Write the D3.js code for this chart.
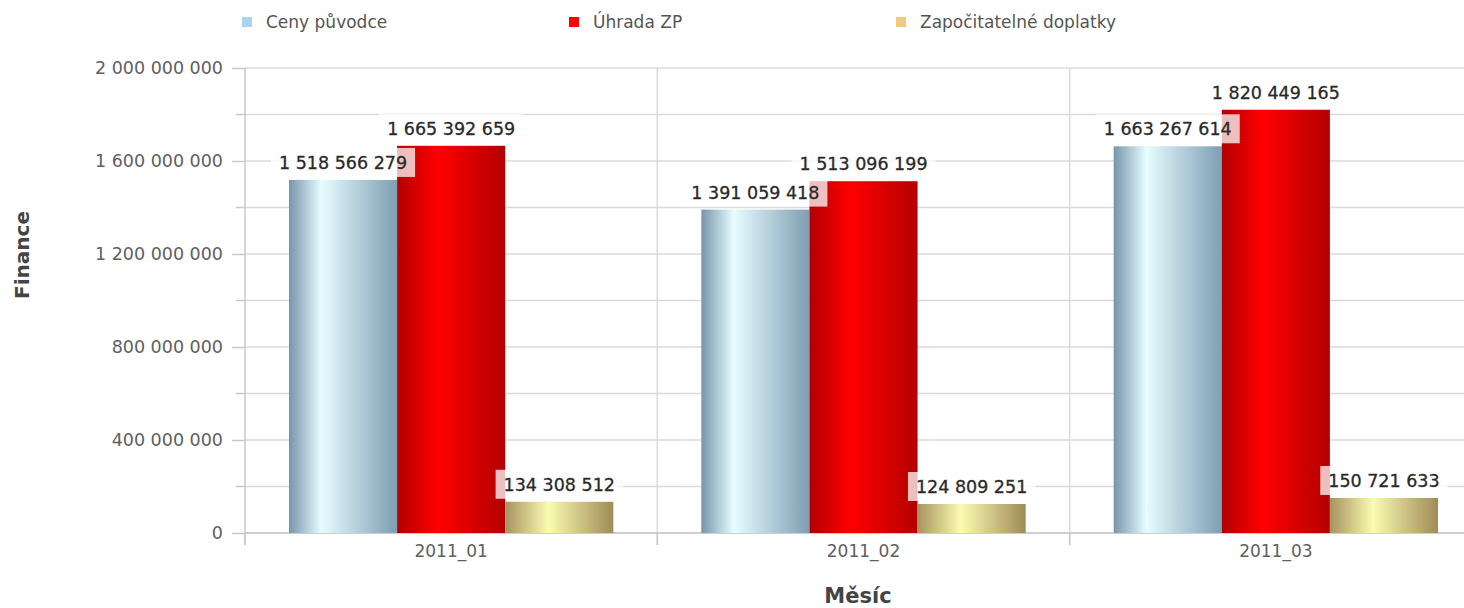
<html>
<head>
<meta charset="utf-8">
<script src="https://d3js.org/d3.v7.min.js"></script>
<style>
  body { margin: 0; background: #fff; }
  text { font-family: "DejaVu Sans", Verdana, sans-serif; }
</style>
</head>
<body>
<svg width="1464" height="608"></svg>
<script>
// data
var months = ["2011_01", "2011_02", "2011_03"];
var seriesNames = ["Ceny původce", "Úhrada ZP", "Započitatelné doplatky"];
var cenyPuvodce = [1518566279, 1391059418, 1663267614];
var uhradaZP = [1665392659, 1513096199, 1820449165];
var doplatky = [134308512, 124809251, 150721633];
var yTicks = [0, 400000000, 800000000, 1200000000, 1600000000, 2000000000];
var yMinor = [200000000, 600000000, 1000000000, 1400000000, 1800000000];

var legendColors = ["#a9d3f3", "#ff0000", "#f0cb78"];
var gradStops = [
  [["0%", "#7795ab"], ["30%", "#e6fcff"], ["100%", "#7f9eb4"]],
  [["0%", "#b00000"], ["38%", "#ff0000"], ["100%", "#b30000"]],
  [["0%", "#a69360"], ["40%", "#fbfbb2"], ["100%", "#9f8b56"]]
];

var values = [cenyPuvodce, uhradaZP, doplatky];

var svg = d3.select("svg");
var fmt = d3.formatLocale({decimal: ",", thousands: " ", grouping: [3], currency: ["", ""]}).format(",d");

var x0 = d3.scaleBand().domain(months).range([245, 1482]);
var x1 = d3.scaleBand().domain(d3.range(3)).range([44, x0.bandwidth() - 44]);
var y = d3.scaleLinear().domain([0, 2000000000]).range([533, 68]);

// gradients
var defs = svg.append("defs");
gradStops.forEach(function(stops, i) {
  var g = defs.append("linearGradient").attr("id", "grad" + i)
    .attr("x1", "0%").attr("x2", "100%").attr("y1", "0%").attr("y2", "0%");
  stops.forEach(function(s) {
    g.append("stop").attr("offset", s[0]).attr("stop-color", s[1]);
  });
});

// gridlines
var grid = svg.append("g").attr("stroke", "#dadada").attr("stroke-width", 1.5);
grid.selectAll(".h").data(yTicks.concat(yMinor)).enter().append("line")
  .attr("x1", 245).attr("x2", 1464)
  .attr("y1", function(d) { return y(d); }).attr("y2", function(d) { return y(d); });
grid.selectAll(".v").data(months.slice(1)).enter().append("line")
  .attr("x1", function(d) { return x0(d); }).attr("x2", function(d) { return x0(d); })
  .attr("y1", y(2000000000)).attr("y2", 545);

// y axis
var yAxis = svg.append("g").attr("transform", "translate(245,0)")
  .call(d3.axisLeft(y).tickValues(yTicks).tickFormat(fmt).tickSize(13).tickPadding(9));
yAxis.select(".domain").remove();
yAxis.selectAll(".tick line").attr("stroke", "#c8c8c8").attr("stroke-width", 1.5);
yAxis.selectAll(".tick text").attr("fill", "#606060").style("font-size", "17.5px")
  .style("font-family", "DejaVu Sans, sans-serif");
svg.append("g").attr("transform", "translate(245,0)")
  .selectAll("line").data(yMinor).enter().append("line")
  .attr("x1", -9).attr("x2", 0)
  .attr("y1", function(d) { return y(d); }).attr("y2", function(d) { return y(d); })
  .attr("stroke", "#c8c8c8").attr("stroke-width", 1.5);
svg.append("line").attr("x1", 245).attr("x2", 245).attr("y1", y(2000000000)).attr("y2", 545)
  .attr("stroke", "#c8c8c8").attr("stroke-width", 1.5);

// x axis
svg.append("line").attr("x1", 245).attr("x2", 1464).attr("y1", y(0)).attr("y2", y(0))
  .attr("stroke", "#c8c8c8").attr("stroke-width", 1.5);
var xAxis = svg.append("g").attr("transform", "translate(0," + y(0) + ")")
  .call(d3.axisBottom(x0).tickSize(0).tickPadding(12));
xAxis.select(".domain").remove();
xAxis.selectAll(".tick text").attr("fill", "#606060").style("font-size", "17px")
  .style("font-family", "DejaVu Sans, sans-serif");
svg.append("g").selectAll("line").data(months).enter().append("line")
  .attr("x1", function(d) { return x0(d); }).attr("x2", function(d) { return x0(d); })
  .attr("y1", y(0)).attr("y2", 545)
  .attr("stroke", "#c8c8c8").attr("stroke-width", 1.5);

// bars
var groups = svg.append("g").selectAll("g").data(months).enter().append("g")
  .attr("transform", function(d) { return "translate(" + x0(d) + ",0)"; });
groups.selectAll("rect").data(function(d, i) {
    return values.map(function(v, s) { return {s: s, v: v[i]}; });
  }).enter().append("rect")
  .attr("x", function(d) { return x1(d.s); })
  .attr("width", x1.bandwidth())
  .attr("y", function(d) { return y(d.v); })
  .attr("height", function(d) { return y(0) - y(d.v); })
  .attr("fill", function(d) { return "url(#grad" + d.s + ")"; });

// value labels on top
var labels = svg.append("g");
months.forEach(function(m, i) {
  values.forEach(function(v, s) {
    var cx = x0(m) + x1(s) + x1.bandwidth() / 2;
    var top = y(v[i]);
    var lab = labels.append("g");
    var bg = lab.append("rect");
    var t = lab.append("text")
      .attr("x", cx).attr("y", top - 17).attr("dy", "0.35em")
      .attr("text-anchor", "middle").attr("fill", "#2a2a2a")
      .attr("stroke", "#2a2a2a").attr("stroke-width", 0.3)
      .style("font-size", "17.5px")
      .text(fmt(v[i]));
    var w = t.node().getComputedTextLength();
    bg.attr("x", cx - w / 2 - 8).attr("width", w + 16)
      .attr("y", top - 32).attr("height", 29)
      .attr("fill", "#fff").attr("fill-opacity", 0.75);
  });
});

// legend
var legend = svg.append("g").selectAll("g").data(seriesNames).enter().append("g")
  .attr("transform", function(d, i) { return "translate(" + (242 + i * 327) + ",0)"; });
legend.append("rect").attr("y", 17).attr("width", 10).attr("height", 10)
  .attr("fill", function(d, i) { return legendColors[i]; });
legend.append("text").attr("x", 24).attr("y", 22).attr("dy", "0.35em")
  .attr("fill", "#555").style("font-size", "17px").text(function(d) { return d; });

// axis titles
svg.append("text").attr("transform", "translate(22,255) rotate(-90)")
  .attr("text-anchor", "middle").attr("dy", "0.35em")
  .attr("fill", "#444").style("font-size", "20px").style("font-weight", "bold")
  .text("Finance");
svg.append("text").attr("x", 858).attr("y", 596).attr("dy", "0.35em")
  .attr("text-anchor", "middle")
  .attr("fill", "#444").style("font-size", "21px").style("font-weight", "bold")
  .text("Měsíc");
</script>
</body>
</html>
